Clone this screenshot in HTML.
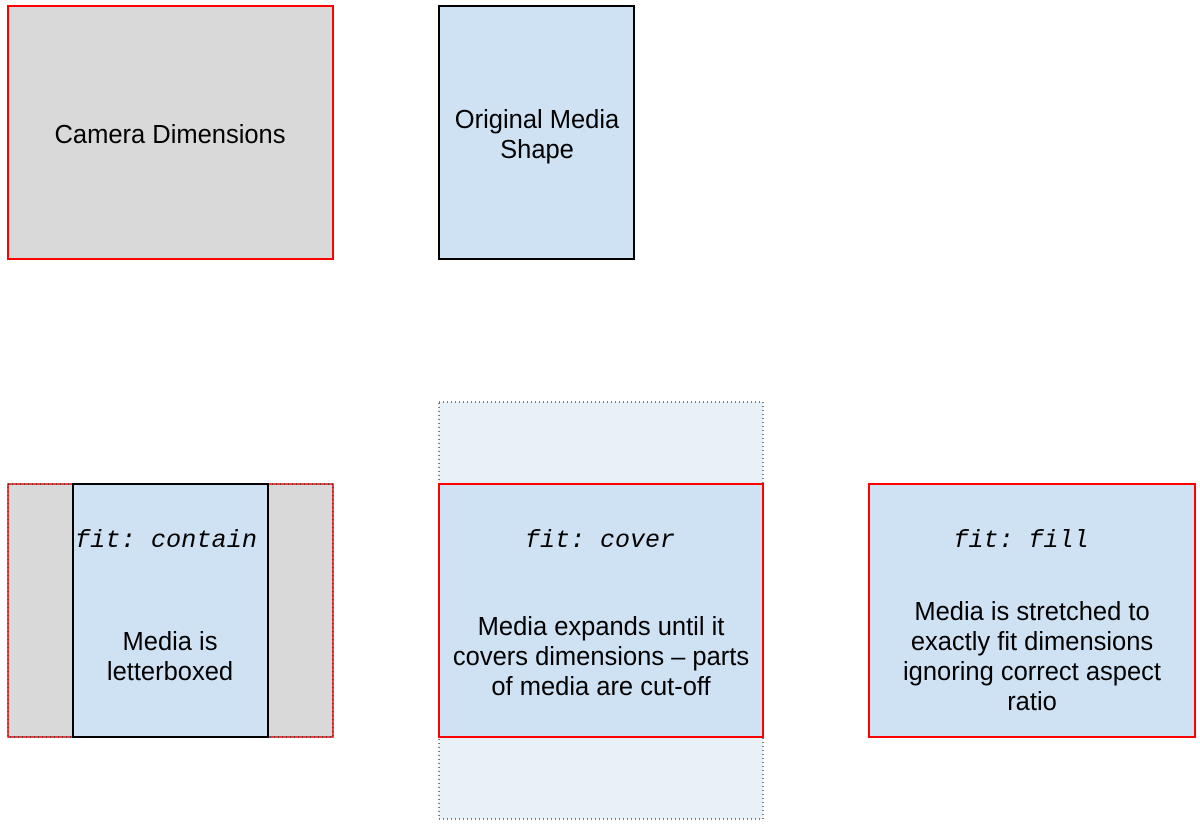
<!DOCTYPE html>
<html><head><meta charset="utf-8"><style>body{margin:0;background:#fff}svg{display:block}</style></head>
<body>
<svg width="1200" height="825" viewBox="0 0 1200 825" xmlns="http://www.w3.org/2000/svg" font-family="Liberation Sans, sans-serif" font-size="25.5" text-anchor="middle" fill="#000">
<rect x="8" y="6" width="325" height="253" fill="#d9d9d9" stroke="#f00" stroke-width="2"/>
<text x="170" y="143">Camera Dimensions</text>
<rect x="439" y="6" width="195" height="253" fill="#cfe2f3" stroke="#000" stroke-width="2"/>
<text x="537" y="128">Original Media</text>
<text x="537" y="158">Shape</text>

<rect x="8" y="484" width="325" height="253" fill="#d9d9d9" stroke="#f00" stroke-width="1.5"/>
<rect x="8" y="484" width="325" height="253" fill="none" stroke="#000" stroke-width="1" stroke-dasharray="1,3"/>
<rect x="73" y="484" width="195" height="253" fill="#cfe2f3" stroke="#000" stroke-width="2"/>
<text x="166" y="547" font-family="Liberation Mono, monospace" font-style="italic" font-size="25" textLength="182" lengthAdjust="spacingAndGlyphs">fit: contain</text>
<text x="170" y="650">Media is</text>
<text x="170" y="680">letterboxed</text>

<rect x="439" y="402" width="324" height="417" fill="#e8f0f8" stroke="#000" stroke-width="1" stroke-dasharray="1,3"/>
<rect x="439" y="484" width="324" height="253" fill="#cfe2f3" stroke="#f00" stroke-width="2"/>
<text x="600" y="547" font-family="Liberation Mono, monospace" font-style="italic" font-size="25">fit: cover</text>
<text x="601" y="635">Media expands until it</text>
<text x="601" y="665">covers dimensions – parts</text>
<text x="601" y="695">of media are cut-off</text>

<rect x="869" y="484" width="326" height="253" fill="#cfe2f3" stroke="#f00" stroke-width="2"/>
<text x="1021" y="547" font-family="Liberation Mono, monospace" font-style="italic" font-size="25">fit: fill</text>
<text x="1032" y="620">Media is stretched to</text>
<text x="1032" y="650">exactly fit dimensions</text>
<text x="1032" y="680">ignoring correct aspect</text>
<text x="1032" y="710">ratio</text>
</svg>
</body></html>
